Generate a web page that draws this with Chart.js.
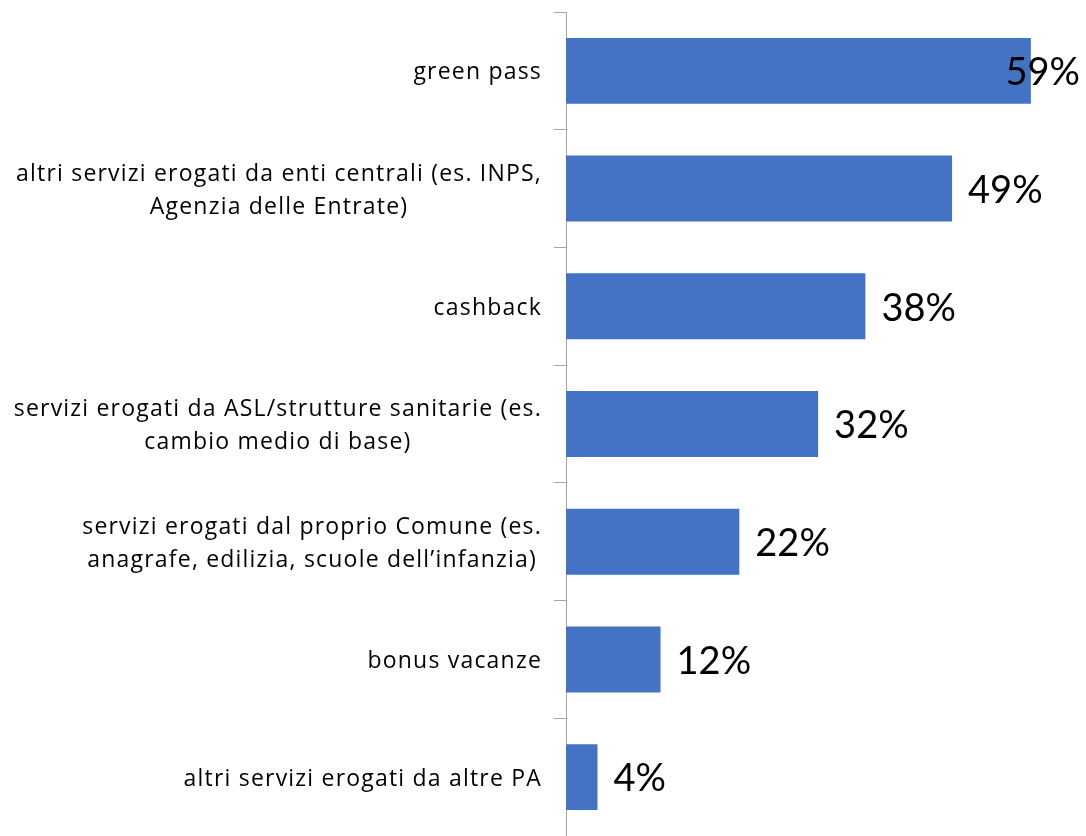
<!DOCTYPE html>
<html>
<head>
<meta charset="utf-8">
<script src="https://cdn.jsdelivr.net/npm/chart.js@4.4.0/dist/chart.umd.min.js"></script>
<style>
  html, body { margin: 0; padding: 0; background: #fff; }
  #wrap { width: 1086px; height: 836px; }
</style>
</head>
<body>
<div id="wrap"><canvas id="graph" width="1086" height="836"></canvas></div>
<script>
const categories = [
  ['green pass'],
  ['altri servizi erogati da enti centrali (es. INPS,', 'Agenzia delle Entrate)'],
  ['cashback'],
  ['servizi erogati da ASL/strutture sanitarie (es.', 'cambio medio di base)'],
  ['servizi erogati dal proprio Comune (es.', 'anagrafe, edilizia, scuole dell\u2019infanzia)'],
  ['bonus vacanze'],
  ['altri servizi erogati da altre PA']
];
const values = [59, 49, 38, 32, 22, 12, 4];
const valueLabels = ['59%', '49%', '38%', '32%', '22%', '12%', '4%'];

const CAT_FONT = '"Open Sans", sans-serif';
const VAL_FONT = 'Lato, "Open Sans", sans-serif';

// category labels: lines centred on each other, block right-aligned next to the axis
const catLabels = {
  id: 'catLabels',
  afterDraw(chart) {
    const c = chart.ctx;
    const yScale = chart.scales.y;
    c.save();
    c.font = '23px ' + CAT_FONT;
    c.letterSpacing = '1.2px';
    c.fillStyle = '#000';
    c.textBaseline = 'middle';
    c.textAlign = 'center';
    const right = yScale.right - 24;
    const lh = 33;
    categories.forEach((lines, i) => {
      const w = Math.max(...lines.map(l => c.measureText(l).width));
      const cx = right - w / 2;
      const yc = yScale.getPixelForValue(i) + 2;
      lines.forEach((l, j) => {
        c.fillText(l, cx, yc + (j - (lines.length - 1) / 2) * lh);
      });
    });
    c.restore();
  }
};

// value labels at the end of each bar
const valLabels = {
  id: 'valLabels',
  afterDatasetsDraw(chart) {
    const c = chart.ctx;
    const meta = chart.getDatasetMeta(0);
    c.save();
    c.font = '38px ' + VAL_FONT;
    c.fillStyle = '#000';
    c.textBaseline = 'middle';
    c.textAlign = 'left';
    meta.data.forEach((bar, i) => {
      const t = valueLabels[i];
      const w = c.measureText(t).width;
      let x = bar.x + 16;
      if (x + w > chart.width - 6) x = chart.width - 6 - w;
      c.fillText(t, x, bar.y + 2);
    });
    c.restore();
  }
};

new Chart(document.getElementById('graph').getContext('2d'), {
  type: 'bar',
  data: {
    labels: categories,
    datasets: [{
      data: values,
      backgroundColor: '#4472C4',
      borderWidth: 0,
      categoryPercentage: 1,
      barPercentage: 0.56
    }]
  },
  options: {
    indexAxis: 'y',
    responsive: false,
    animation: false,
    layout: { padding: { top: 12, right: 0, bottom: 0, left: 0 } },
    plugins: { legend: { display: false }, tooltip: { enabled: false } },
    scales: {
      x: { display: false, min: 0, max: 66 },
      y: {
        afterFit(scale) { scale.width = 566; },
        ticks: { display: false },
        grid: {
          offset: true,
          drawOnChartArea: false,
          drawTicks: true,
          tickLength: 12,
          color: '#a6a6a6',
          lineWidth: 1
        },
        border: { color: '#a6a6a6', width: 1 }
      }
    }
  },
  plugins: [catLabels, valLabels]
});
</script>
</body>
</html>
